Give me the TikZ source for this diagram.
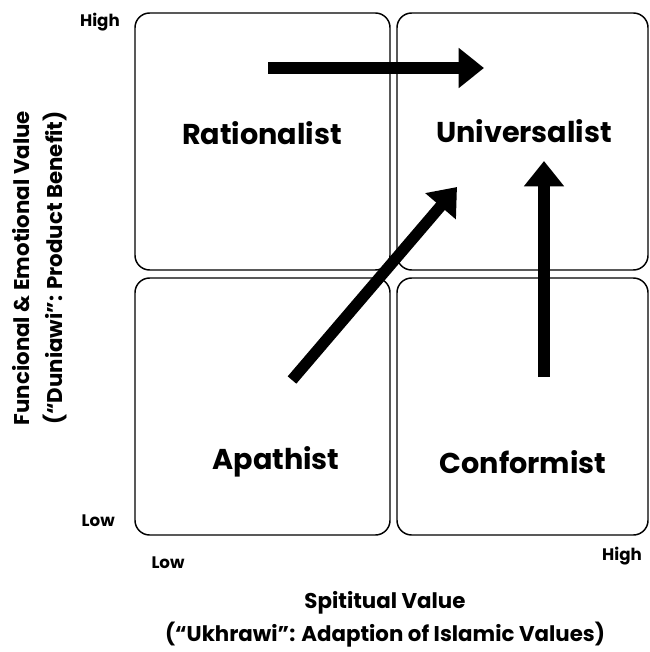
\documentclass[tikz,border=0pt]{standalone}
\usepackage{fontspec}
\setmainfont{Poppins}
\usepackage{pgf,tikz}
\usetikzlibrary{arrows.meta}

\tikzset{
	quad/.style={draw, line width=1.1pt, rounded corners=11pt},
	bigarrow/.style={line width=8.5pt, -{Triangle[width=29pt,length=19pt]}},
	typename/.style={inner sep=0.75pt, font=\bfseries\fontsize{21.5}{26}\selectfont},
	levelname/.style={inner sep=0.75pt, font=\bfseries\fontsize{12.5}{15}\selectfont},
	axisname/.style={inner sep=0.75pt, font=\bfseries\fontsize{16}{25}\selectfont, align=center}
}

\begin{document}
\begin{tikzpicture}[x=0.75pt,y=0.75pt,yscale=-1,xscale=1]
	%set diagram left start at 0, and has height of 652
	\useasboundingbox (0,0) rectangle (649,652);
	
	%Rounded Rect: top left
	\draw [quad] (135,13) rectangle (390,270);
	%Rounded Rect: top right
	\draw [quad] (397,13) rectangle (648,270);
	%Rounded Rect: bottom left
	\draw [quad] (135,278) rectangle (390,535);
	%Rounded Rect: bottom right
	\draw [quad] (397,278) rectangle (648,535);
	
	% Text Node
	\draw (262,133) node (rational) [typename] {Rationalist};
	% Text Node
	\draw (524,131) node (universal) [typename] {Universalist};
	% Text Node
	\draw (276,462) node (apathist) [typename] {Apathist};
	% Text Node
	\draw (523,462) node (conform) [typename] {Conformist};
	
	%Arrow ends
	\coordinate (rightTail) at (268,68);
	\coordinate (rightTip) at (484,68);
	\coordinate (diagTail) at (292,380);
	\coordinate (diagTip) at (457,187);
	\coordinate (upTail) at (544,377);
	\coordinate (upTip) at (544,161);
	%Right Arrow
	\draw [bigarrow] (rightTail) -- (rightTip);
	%Diagonal Arrow
	\draw [bigarrow] (diagTail) -- (diagTip);
	%Up Arrow
	\draw [bigarrow] (upTail) -- (upTip);
	
	% Text Node
	\draw (121,22) node (yHigh) [anchor=east][levelname] {High};
	% Text Node
	\draw (116,521) node (yLow) [anchor=east][levelname] {Low};
	% Text Node
	\draw (168,563) node (xLow) [levelname] {Low};
	% Text Node
	\draw (622,556) node (xHigh) [levelname] {High};
	% Text Node
	\draw (40,268) node (yTitle) [rotate=90][axisname] {Funcional \& Emotional Value\\(“Duniawi”: Product Benefit)};
	% Text Node
	\draw (385,619) node (xTitle) [axisname] {Spititual Value\\(“Ukhrawi”: Adaption of Islamic Values)};
	
\end{tikzpicture}
\end{document}
